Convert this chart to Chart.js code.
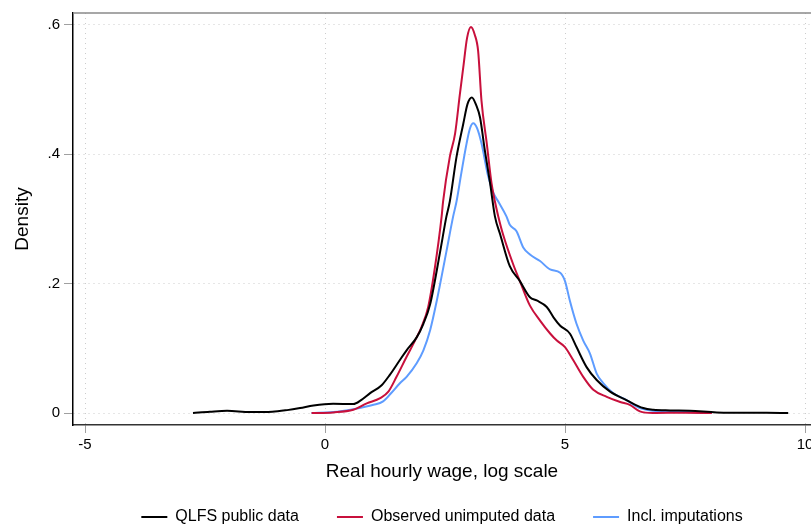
<!DOCTYPE html>
<html>
<head>
<meta charset="utf-8">
<script src="https://cdn.jsdelivr.net/npm/chart.js@4"></script>
<style>
  html, body { margin: 0; padding: 0; background: #fff; overflow: hidden; }
  #caja { width: 811px; height: 529px; }
</style>
</head>
<body>
<div id="caja"><canvas id="grafico_densidad"></canvas></div>
<script>
// series (x = log wage, y = density)
var qlfsX = [-2.75, -2.4, -2.04, -1.56, -1.1, -0.79, -0.52, -0.24, 0.17, 0.59, 0.76, 0.94, 1.18, 1.35, 1.56, 1.70, 1.91, 2.05, 2.19, 2.40, 2.53, 2.60, 2.74, 2.88, 2.97, 3.06, 3.15, 3.23, 3.33, 3.44, 3.54, 3.65, 3.85, 4.06, 4.27, 4.41, 4.62, 4.76, 4.90, 5.10, 5.24, 5.45, 5.66, 5.94, 6.28, 6.63, 6.84, 7.19, 7.6, 8.16, 8.6, 9.2, 9.65];
var qlfsY = [0, 0.002, 0.0035, 0.0015, 0.002, 0.0045, 0.0077, 0.0117, 0.0143, 0.0138, 0.0204, 0.0307, 0.043, 0.059, 0.082, 0.097, 0.117, 0.138, 0.168, 0.25, 0.304, 0.327, 0.396, 0.447, 0.478, 0.488, 0.476, 0.457, 0.406, 0.355, 0.304, 0.276, 0.227, 0.204, 0.179, 0.174, 0.164, 0.148, 0.135, 0.123, 0.102, 0.071, 0.051, 0.033, 0.020, 0.0077, 0.005, 0.004, 0.0035, 0.001, 0.0005, 0.0003, 0];

var observadoX = [-0.28, 0.17, 0.59, 0.87, 1.15, 1.32, 1.49, 1.70, 1.875, 2.01, 2.15, 2.29, 2.43, 2.46, 2.60, 2.71, 2.81, 2.88, 2.96, 3.04, 3.12, 3.19, 3.26, 3.37, 3.47, 3.54, 3.61, 3.71, 3.92, 4.06, 4.27, 4.48, 4.69, 4.83, 5.0, 5.17, 5.38, 5.59, 5.87, 6.15, 6.35, 6.56, 6.83, 7.5, 8.06];
var observadoY = [0, 0.001, 0.005, 0.015, 0.023, 0.033, 0.056, 0.087, 0.112, 0.133, 0.164, 0.225, 0.304, 0.327, 0.396, 0.432, 0.493, 0.534, 0.58, 0.597, 0.585, 0.56, 0.483, 0.417, 0.355, 0.327, 0.304, 0.276, 0.23, 0.204, 0.166, 0.143, 0.123, 0.112, 0.102, 0.082, 0.056, 0.036, 0.025, 0.017, 0.0127, 0.0025, 0.0, 0.0005, 0];

var imputadoX = [-0.28, 0.17, 0.59, 1.01, 1.21, 1.38, 1.56, 1.70, 1.91, 2.05, 2.19, 2.33, 2.53, 2.67, 2.74, 2.84, 2.95, 3.02, 3.09, 3.17, 3.26, 3.40, 3.51, 3.61, 3.78, 3.85, 3.99, 4.13, 4.27, 4.48, 4.69, 4.9, 5.0, 5.1, 5.24, 5.38, 5.52, 5.66, 5.8, 6.0, 6.28, 6.56, 6.83, 7.19, 7.6, 8.06];
var imputadoY = [0, 0.0015, 0.006, 0.0127, 0.018, 0.031, 0.046, 0.056, 0.077, 0.097, 0.128, 0.174, 0.25, 0.304, 0.327, 0.371, 0.417, 0.44, 0.448, 0.44, 0.417, 0.366, 0.34, 0.327, 0.304, 0.291, 0.281, 0.256, 0.245, 0.235, 0.222, 0.217, 0.204, 0.174, 0.138, 0.112, 0.092, 0.061, 0.046, 0.031, 0.020, 0.0077, 0.0035, 0.0025, 0.0015, 0];

var xTicks = [-5, 0, 5, 10];
var yTicks = [0, 0.2, 0.4, 0.6];
var yTickLabels = ["0", ".2", ".4", ".6"];

var fuente = "'Liberation Sans', Arial, Helvetica, sans-serif";

function pares(xs, ys) {
    return xs.map(function (x, i) { return { x: x, y: ys[i] }; });
}

function serie(nombre, xs, ys, color) {
    return {
        label: nombre,
        data: pares(xs, ys),
        borderColor: color,
        backgroundColor: color,
        borderWidth: 2,
        pointRadius: 0,
        fill: false,
        cubicInterpolationMode: "monotone"
    };
}

// thin grey frame line along the top of the plot region
var bordeSuperior = {
    id: "bordeSuperior",
    afterDraw: function (chart) {
        var a = chart.chartArea, ctx = chart.ctx;
        ctx.save();
        ctx.strokeStyle = "#8a8a8a";
        ctx.lineWidth = 1.5;
        ctx.beginPath();
        ctx.moveTo(a.left, a.top);
        ctx.lineTo(a.right, a.top);
        ctx.stroke();
        ctx.restore();
    }
};

document.addEventListener("DOMContentLoaded", function () {
    var ctx = document.getElementById("grafico_densidad").getContext("2d");
    var myChart = new Chart(ctx, {
        type: "line",
        data: {
            datasets: [
                serie("QLFS public data", qlfsX, qlfsY, "#000000"),
                serie("Observed unimputed data", observadoX, observadoY, "#c8103c"),
                serie("Incl. imputations", imputadoX, imputadoY, "#5e9cff")
            ]
        },
        plugins: [bordeSuperior],
        options: {
            responsive: true,
            maintainAspectRatio: false,
            animation: false,
            devicePixelRatio: 1,
            layout: { padding: { top: 10, right: 0, left: 0, bottom: -6 } },
            plugins: {
                legend: {
                    position: "bottom",
                    fullSize: false,
                    labels: {
                        usePointStyle: true,
                        pointStyle: "line",
                        pointStyleWidth: 26,
                        padding: 38,
                        color: "#000",
                        font: { family: fuente, size: 16 }
                    }
                },
                tooltip: { enabled: false }
            },
            scales: {
                x: {
                    type: "linear",
                    min: -5.25,
                    max: 10.125,
                    afterBuildTicks: function (s) {
                        s.ticks = xTicks.map(function (v) { return { value: v }; });
                    },
                    afterFit: function (s) {
                        s.height = 46;
                        s.paddingLeft = 0;
                        s.paddingRight = 0;
                    },
                    ticks: {
                        autoSkip: false,
                        maxRotation: 0,
                        padding: 3,
                        color: "#000",
                        font: { family: fuente, size: 15 }
                    },
                    grid: { color: "#cccccc", lineWidth: 1, tickColor: "#a0a0a0", tickLength: 8 },
                    border: { color: "#333", width: 1.5, dash: [1, 4] },
                    title: {
                        display: true,
                        text: "Real hourly wage, log scale",
                        color: "#000",
                        font: { family: fuente, size: 19 },
                        padding: { top: 0, bottom: -12 }
                    }
                },
                y: {
                    min: -0.0185,
                    max: 0.6185,
                    afterBuildTicks: function (s) {
                        s.ticks = yTicks.map(function (v) { return { value: v }; });
                    },
                    afterFit: function (s) {
                        s.width = 73;
                    },
                    ticks: {
                        padding: 4,
                        color: "#000",
                        font: { family: fuente, size: 15 },
                        callback: function (value) {
                            var i = yTicks.indexOf(value);
                            return i >= 0 ? yTickLabels[i] : "";
                        }
                    },
                    grid: { color: "#cccccc", lineWidth: 1, tickColor: "#a0a0a0", tickLength: 9 },
                    border: { color: "#000", width: 1.5, dash: [1, 4] },
                    title: {
                        display: true,
                        text: "Density",
                        color: "#000",
                        font: { family: fuente, size: 19 },
                        padding: { top: 11.5, bottom: 0 }
                    }
                }
            }
        }
    });
});
</script>
</body>
</html>
